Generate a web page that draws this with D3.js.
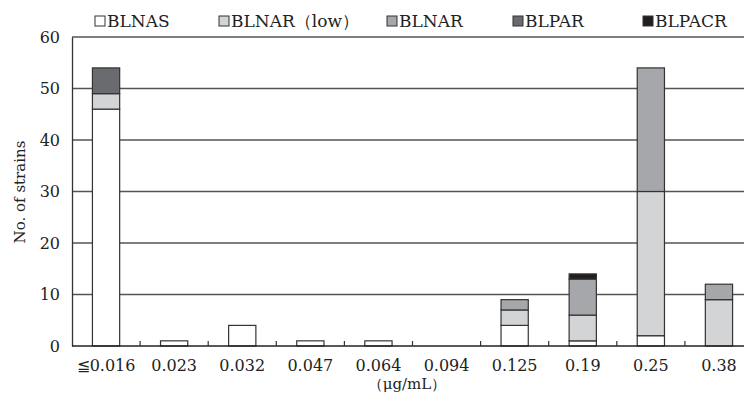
<!DOCTYPE html>
<html>
<head>
<meta charset="utf-8">
<script src="https://cdn.jsdelivr.net/npm/d3@7"></script>
<style>
  body { margin: 0; background: #fff; }
  text { font-family: "DejaVu Serif", serif; fill: #222; }
</style>
</head>
<body>
<div id="chart"></div>
<script>
// Data
const categories = ["≦0.016", "0.023", "0.032", "0.047", "0.064", "0.094", "0.125", "0.19", "0.25", "0.38"];
const blnas = [46, 1, 4, 1, 1, 0, 4, 1, 2, 0];
const blnarLow = [3, 0, 0, 0, 0, 0, 3, 5, 28, 9];
const blnar = [0, 0, 0, 0, 0, 0, 2, 7, 24, 3];
const blpar = [5, 0, 0, 0, 0, 0, 0, 0, 0, 0];
const blpacr = [0, 0, 0, 0, 0, 0, 0, 1, 0, 0];
const seriesNames = ["BLNAS", "BLNAR（low）", "BLNAR", "BLPAR", "BLPACR"];
const yTicks = [0, 10, 20, 30, 40, 50, 60];

const colors = ["#ffffff", "#d3d4d6", "#a6a7aa", "#6a6b6f", "#231f20"];

const width = 744;
const height = 401;
const margin = { top: 37, right: -9, bottom: 55, left: 72 };

// Build rows for the stack
const keys = ["s0", "s1", "s2", "s3", "s4"];
const allSeries = [blnas, blnarLow, blnar, blpar, blpacr];
const rows = categories.map((c, i) => {
  const r = { cat: c };
  keys.forEach((k, j) => (r[k] = allSeries[j][i]));
  return r;
});
const stacked = d3.stack().keys(keys)(rows);

const svg = d3
  .select("#chart")
  .append("svg")
  .attr("width", width)
  .attr("height", height);

const xScale = d3
  .scaleBand()
  .domain(categories)
  .range([margin.left, width - margin.right])
  .paddingInner(0.6)
  .paddingOuter(0.3);

const xOuter = d3
  .scaleBand()
  .domain(categories)
  .range([margin.left, width - margin.right]);

const yScale = d3
  .scaleLinear()
  .domain([0, 60])
  .range([height - margin.bottom, margin.top]);

// Gridlines
svg
  .append("g")
  .selectAll("line")
  .data(yTicks.filter((d) => d > 0))
  .join("line")
  .attr("x1", margin.left)
  .attr("x2", width)
  .attr("y1", (d) => yScale(d))
  .attr("y2", (d) => yScale(d))
  .attr("stroke", "#555")
  .attr("stroke-width", 1.3);

// Bars
svg
  .append("g")
  .selectAll("g")
  .data(stacked)
  .join("g")
  .attr("fill", (d, i) => colors[i])
  .selectAll("rect")
  .data((d) => d.filter((p) => p[1] - p[0] > 0))
  .join("rect")
  .attr("x", (d) => xScale(d.data.cat))
  .attr("width", xScale.bandwidth())
  .attr("y", (d) => yScale(d[1]))
  .attr("height", (d) => yScale(d[0]) - yScale(d[1]))
  .attr("stroke", "#333")
  .attr("stroke-width", 1.2);

// Y axis
const yAxis = svg
  .append("g")
  .attr("transform", `translate(${margin.left},0)`)
  .call(d3.axisLeft(yScale).tickValues(yTicks).tickSize(0).tickPadding(12));
yAxis.select(".domain").attr("stroke", "#333").attr("stroke-width", 1.3);
yAxis
  .selectAll("text")
  .style("font-size", "16px")
  .attr("fill", "#222");

// X axis: baseline and small inner ticks between groups
svg
  .append("line")
  .attr("x1", margin.left)
  .attr("x2", width)
  .attr("y1", yScale(0))
  .attr("y2", yScale(0))
  .attr("stroke", "#222")
  .attr("stroke-width", 1.5);

svg
  .append("g")
  .selectAll("line")
  .data(categories.slice(1))
  .join("line")
  .attr("x1", (d) => xOuter(d))
  .attr("x2", (d) => xOuter(d))
  .attr("y1", yScale(0))
  .attr("y2", yScale(0) - 5)
  .attr("stroke", "#333")
  .attr("stroke-width", 1.2);

svg
  .append("g")
  .selectAll("text")
  .data(categories)
  .join("text")
  .attr("x", (d) => xOuter(d) + xOuter.bandwidth() / 2)
  .attr("y", 371)
  .attr("text-anchor", "middle")
  .style("font-size", "16px")
  .text((d) => d);

// Axis titles
svg
  .append("text")
  .attr("x", 407)
  .attr("y", 389)
  .attr("text-anchor", "middle")
  .style("font-size", "15px")
  .text("（μg/mL）");

svg
  .append("text")
  .attr("transform", "translate(25,192) rotate(-90)")
  .attr("text-anchor", "middle")
  .style("font-size", "15px")
  .text("No. of strains");

// Legend
const legendX = [95, 219, 387, 513, 643];
const legend = svg
  .append("g")
  .selectAll("g")
  .data(seriesNames)
  .join("g")
  .attr("transform", (d, i) => `translate(${legendX[i]},16)`);

legend
  .append("rect")
  .attr("width", 10)
  .attr("height", 10)
  .attr("fill", (d, i) => colors[i])
  .attr("stroke", "#333")
  .attr("stroke-width", 1);

legend
  .append("text")
  .attr("x", 12)
  .attr("y", 10.5)
  .style("font-size", "17px")
  .text((d) => d);
</script>
</body>
</html>
